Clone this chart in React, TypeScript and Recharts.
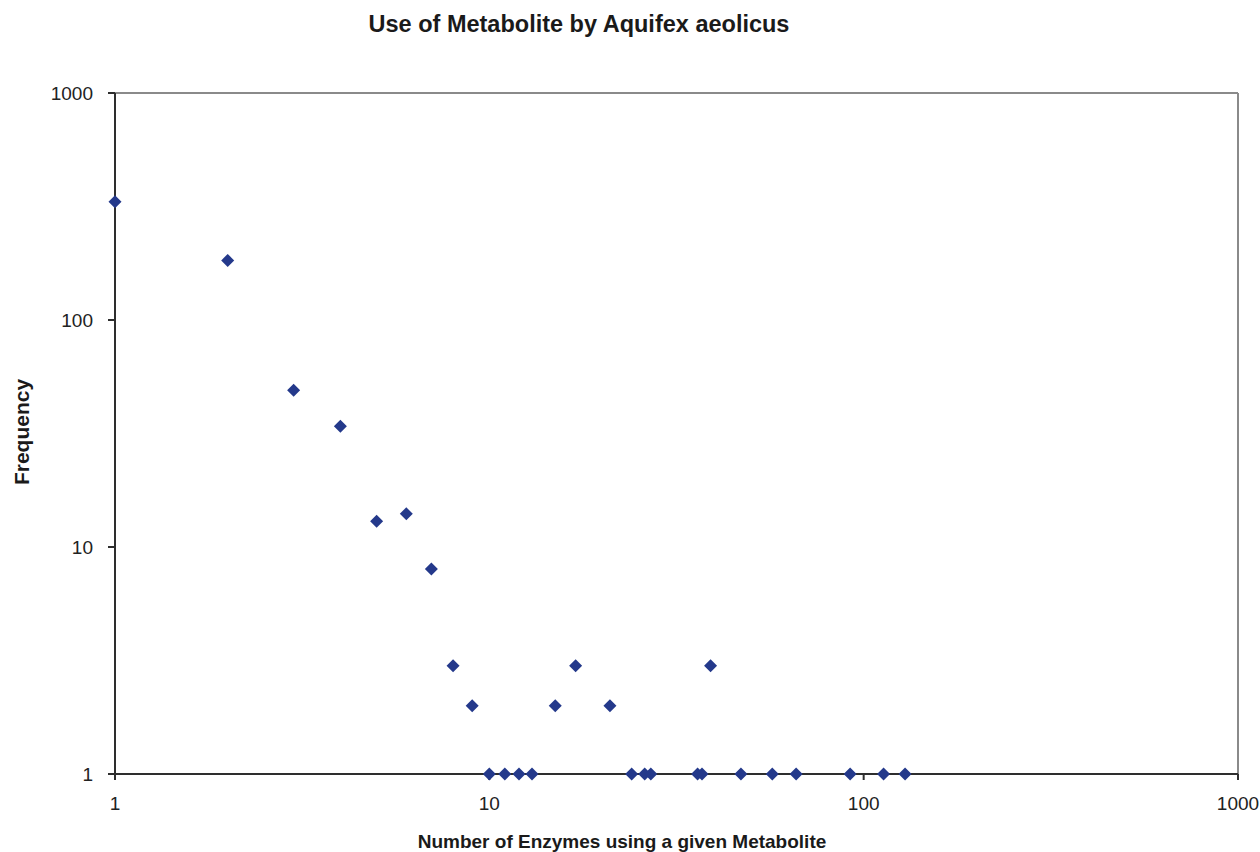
import React from "react";
import { ScatterChart, Scatter, XAxis, YAxis, ReferenceLine } from "recharts";

// number of enzymes using a metabolite
const enzymeCounts = [
  1, 2, 3, 4, 5, 6, 7, 8, 9, 10, 11, 12, 13, 15, 17, 21, 24, 26, 27, 36, 37, 39, 47, 57, 66, 92, 113, 129,
];
// how many metabolites have that count
const frequencies = [
  332, 183, 49, 34, 13, 14, 8, 3, 2, 1, 1, 1, 1, 2, 3, 2, 1, 1, 1, 1, 1, 3, 1, 1, 1, 1, 1, 1,
];

const xTicks = [1, 10, 100, 1000];
const yTicks = [1, 10, 100, 1000];

const data = enzymeCounts.map((x, i) => ({ x, y: frequencies[i] }));

const FONT = "'Liberation Sans', Arial, sans-serif";
const MARKER = "#24398b";

const Diamond = (props: any) => {
  const { cx, cy } = props;
  const r = 6.5;
  return (
    <polygon
      points={`${cx},${cy - r} ${cx + r},${cy} ${cx},${cy + r} ${cx - r},${cy}`}
      fill={MARKER}
    />
  );
};

const App = () => {
  return (
    <div
      style={{
        position: "absolute",
        left: 0,
        top: 0,
        width: 1260,
        height: 852,
        background: "#fff",
        fontFamily: FONT,
      }}
    >
      <div
        style={{
          position: "absolute",
          top: 11,
          left: 0,
          width: 1158,
          textAlign: "center",
          fontWeight: "bold",
          fontSize: 23.5,
          color: "#1a1a1a",
        }}
      >
        Use of Metabolite by Aquifex aeolicus
      </div>

      <ScatterChart width={1260} height={852} margin={{ top: 93, right: 22, bottom: 0, left: 0 }}>
        <XAxis
          type="number"
          dataKey="x"
          scale="log"
          domain={[1, 1000]}
          ticks={xTicks}
          height={78}
          axisLine={{ stroke: "#2e2e2e", strokeWidth: 2 }}
          tickLine={{ stroke: "#2e2e2e", strokeWidth: 2 }}
          tickSize={6}
          tickMargin={17}
          tick={{ fill: "#222", fontSize: 19, fontFamily: FONT }}
        />
        <YAxis
          type="number"
          dataKey="y"
          scale="log"
          domain={[1, 1000]}
          ticks={yTicks}
          width={115}
          axisLine={{ stroke: "#2e2e2e", strokeWidth: 2 }}
          tickLine={{ stroke: "#2e2e2e", strokeWidth: 2 }}
          tickSize={7}
          tickMargin={15}
          tick={{ fill: "#222", fontSize: 19, fontFamily: FONT }}
        />
        <ReferenceLine y={1000} stroke="#8a8a8a" strokeWidth={2} />
        <ReferenceLine x={1000} stroke="#8a8a8a" strokeWidth={2} />
        <Scatter data={data} shape={<Diamond />} isAnimationActive={false} />
      </ScatterChart>

      <div
        style={{
          position: "absolute",
          left: 22,
          top: 432,
          transform: "translate(-50%, -50%) rotate(-90deg)",
          fontWeight: "bold",
          fontSize: 21,
          color: "#1a1a1a",
          whiteSpace: "nowrap",
        }}
      >
        Frequency
      </div>

      <div
        style={{
          position: "absolute",
          top: 831,
          left: 0,
          width: 1244,
          textAlign: "center",
          fontWeight: "bold",
          fontSize: 19,
          color: "#1a1a1a",
        }}
      >
        Number of Enzymes using a given Metabolite
      </div>
    </div>
  );
};

export default App;
